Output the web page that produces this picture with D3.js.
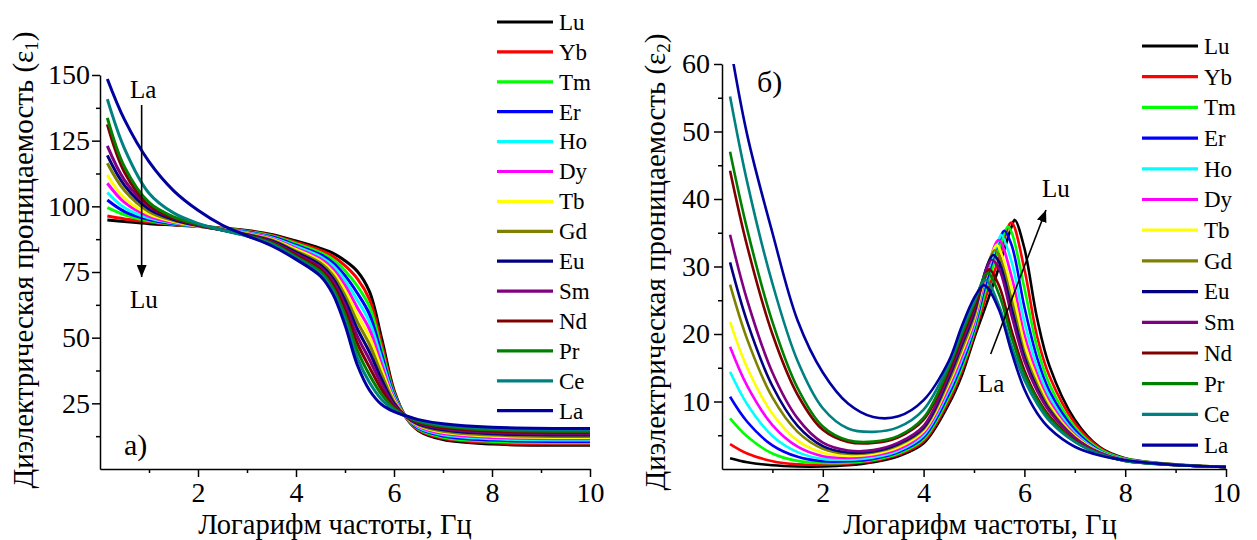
<!DOCTYPE html>
<html><head><meta charset="utf-8">
<script src="https://cdn.jsdelivr.net/npm/d3@7"></script>
<style>
body{margin:0;background:#fff}
svg{display:block}
text{font-family:"Liberation Serif","Times New Roman",serif;fill:#000}
</style>
</head><body>
<svg id="c" width="1257" height="540"></svg>
<script>
// ---------- data ----------
const elements = ["Lu","Yb","Tm","Er","Ho","Dy","Tb","Gd","Eu","Sm","Nd","Pr","Ce","La"];
const colors = ["#000000","#ff0000","#00ff00","#0000ff","#00ffff","#ff00ff","#ffff00","#808000","#000080","#800080","#800000","#008000","#008080","#0000a0"];

// panel a) real part eps1
const xLeft = [0.15,0.5,1,1.5,2,2.5,3,3.5,4,4.5,4.75,5,5.25,5.5,5.75,6,6.25,6.5,7,8,10];
const eps1Lu = [94.8,94.2,93.4,92.9,92.4,91.7,90.8,89.3,86.8,84.0,82.2,79.3,75.3,67.5,49.5,30,19.5,14.6,11.2,9.5,9.0];
const eps1Yb = [96.3,95.2,94,93.1,92.4,91.6,90.6,89,86.3,83.2,81.0,77.4,72.5,64.6,47.4,29.4,19.5,14.9,11.7,10.0,9.5];
const eps1Tm = [99.5,96.8,94.5,93.2,92.4,91.5,90.4,88.7,85.8,82.4,79.8,75.5,69.7,61.8,45.4,28.7,19.6,15.2,12.1,10.5,10.0];
const eps1Er = [102.4,98,95,93.4,92.4,91.4,90.2,88.4,85.2,81.6,78.6,73.6,67.0,58.9,43.5,28.1,19.6,15.5,12.6,11.0,10.5];
const eps1Ho = [105.3,99.5,95.5,93.6,92.4,91.3,90,88.1,84.7,80.8,77.4,71.8,64.3,56.0,41.6,27.5,19.7,15.8,13.0,11.5,11.0];
const eps1Dy = [108.8,101.5,96.2,93.9,92.4,91.2,89.8,87.8,84.1,80.0,76.2,69.9,61.5,53.2,39.7,26.8,19.8,16.2,13.5,12.0,11.5];
const eps1Tb = [111.9,103,97,94.2,92.5,91.1,89.6,87.5,83.6,79.2,75.0,68.0,58.8,50.3,37.8,26.2,19.8,16.5,14.0,12.5,12.0];
const eps1Gd = [116.4,106,98,94.6,92.6,91,89.4,87.2,83.0,78.4,73.9,66.1,56.1,47.4,35.9,25.6,19.9,16.8,14.4,12.9,12.4];
const eps1Eu = [119.4,108,99,95,92.7,91,89.2,86.9,82.5,77.6,72.7,64.2,53.4,44.5,34.0,25.0,19.9,17.1,14.9,13.4,12.9];
const eps1Sm = [123,110,100,95.5,92.8,91,89,86.6,81.9,76.7,71.5,62.3,50.6,41.6,32.1,24.3,20.0,17.5,15.4,13.9,13.4];
const eps1Nd = [131.2,113,100.5,95.5,93,91,89,86.3,81.4,75.9,70.3,60.5,47.9,38.7,30.2,23.7,20.0,17.8,15.8,14.4,13.9];
const eps1Pr = [133.7,115,101.5,96,93.2,91,88.8,86,80.8,75.1,69.1,58.6,45.2,35.8,28.3,23.1,20.1,18.1,16.3,14.9,14.4];
const eps1Ce = [140.8,122,105,97.5,93.5,90.9,88.7,85.6,80.3,74.2,67.9,56.7,42.4,32.9,26.4,22.4,20.1,18.5,16.7,15.4,14.9];
const eps1La = [148.5,133,117,106,98.5,92.8,88.8,85,79.8,73.4,66.7,54.8,39.7,30,24.5,21.8,20.2,18.8,17.2,15.9,15.4];

// panel б) imaginary part eps2
const xRight = [0.16,0.5,1,1.5,2,2.5,3,3.5,4,4.5,4.75,5,5.25,5.5,5.75,6,6.25,6.5,7,7.5,8,9,10];
const eps2Lu = [1.6,1.0,0.55,0.38,0.38,0.55,1.0,1.9,3.8,9.6,13.7,19.3,24.5,30.0,36.0,32.7,22.4,15.2,7.3,3.2,1.6,0.7,0.3];
const eps2Yb = [3.7,2.3,1.15,0.7,0.62,0.8,1.2,2.1,4.1,10.1,14.3,19.8,25.8,31.3,36.4,29.6,19.7,13.7,6.8,3.1,1.5,0.65,0.3];
const eps2Tm = [7.5,4.8,2.3,1.2,0.88,0.95,1.35,2.3,4.4,10.6,14.8,20.2,26.9,32.7,35.0,26.8,18.1,12.5,6.2,2.9,1.5,0.65,0.3];
const eps2Er = [10.7,7.0,3.5,1.8,1.15,1.15,1.5,2.5,4.7,11.1,15.4,20.7,27.9,33.8,33.1,24.0,16.5,11.5,5.8,2.7,1.4,0.6,0.3];
const eps2Ho = [14.4,9.6,4.9,2.5,1.5,1.38,1.7,2.7,5.0,11.6,16.0,21.1,28.7,34.1,30.6,21.8,15.2,10.7,5.4,2.6,1.4,0.6,0.3];
const eps2Dy = [18.1,12.3,6.5,3.3,1.9,1.65,1.95,2.9,5.3,12.1,16.5,21.6,29.1,33.85,28.4,19.9,14.1,10.0,5.1,2.5,1.35,0.6,0.3];
const eps2Tb = [21.8,15.0,8.2,4.2,2.4,1.95,2.2,3.2,5.6,12.6,17.1,22.1,29.5,32.7,26.7,18.6,13.3,9.5,4.9,2.5,1.3,0.6,0.3];
const eps2Gd = [27.3,19.2,10.6,5.5,3.0,2.25,2.45,3.5,5.9,13.0,17.6,22.5,29.8,31.6,25.0,17.3,12.6,9.0,4.7,2.4,1.3,0.6,0.3];
const eps2Eu = [30.6,21.8,12.3,6.4,3.4,2.45,2.6,3.7,6.1,13.5,18.2,23.0,29.9,30.6,23.7,16.6,12.0,8.7,4.6,2.3,1.25,0.6,0.3];
const eps2Sm = [34.7,25.0,14.3,7.5,3.9,2.75,2.8,3.9,6.4,14.0,18.7,23.5,29.7,29.6,22.6,16.0,11.6,8.5,4.6,2.4,1.25,0.6,0.3];
const eps2Nd = [44.2,33.0,20.0,11.0,5.8,4.0,3.85,4.7,7.3,14.5,19.3,23.9,29.0,27.1,20.4,14.6,10.6,7.8,4.2,2.2,1.2,0.6,0.3];
const eps2Pr = [47.0,35.5,21.8,12.0,6.3,4.25,4.05,4.9,7.6,15.0,19.8,24.4,28.8,25.8,19.4,14.0,10.3,7.5,4.1,2.2,1.2,0.6,0.3];
const eps2Ce = [55.2,42.5,27.5,16.0,9.0,6.0,5.5,6.2,8.8,15.5,20.4,24.8,27.95,24.1,18.1,13.2,9.7,7.1,4.0,2.2,1.2,0.6,0.3];
const eps2La = [63.0,49.5,35.0,22.0,14.3,9.7,7.7,7.8,10.2,16.0,21.0,25.3,27.0,23.5,17.2,11.8,8.3,6.0,3.3,2.0,1.3,0.6,0.3];
const peakX = [5.81,5.74,5.67,5.60,5.54,5.49,5.45,5.41,5.38,5.35,5.30,5.27,5.23,5.18];
const peakY = [36.9,36.5,35.9,35.3,34.7,33.9,33.2,32.4,31.7,31.0,29.6,29.0,28.0,27.2];

const xTicks = [2,4,6,8,10];
const xMinor = [1,3,5,7,9];
const yTicksLeft = [25,50,75,100,125,150];
const yMinorLeft = [12.5,37.5,62.5,87.5,112.5,137.5];
const yTicksRight = [10,20,30,40,50,60];
const yMinorRight = [5,15,25,35,45,55];

const eps1 = [eps1Lu,eps1Yb,eps1Tm,eps1Er,eps1Ho,eps1Dy,eps1Tb,eps1Gd,eps1Eu,eps1Sm,eps1Nd,eps1Pr,eps1Ce,eps1La];
const eps2 = [eps2Lu,eps2Yb,eps2Tm,eps2Er,eps2Ho,eps2Dy,eps2Tb,eps2Gd,eps2Eu,eps2Sm,eps2Nd,eps2Pr,eps2Ce,eps2La];

// build point tables
const seriesLeft = eps1.map((vals,i)=>({name:elements[i],color:colors[i],pts:xLeft.map((x,j)=>[x,vals[j]])}));
const seriesRight = eps2.map((vals,i)=>{
  const pts = xRight.map((x,j)=>[x,vals[j]]).filter(p=>Math.abs(p[0]-peakX[i])>0.03);
  pts.push([peakX[i],peakY[i]]);
  pts.sort((a,b)=>a[0]-b[0]);
  return {name:elements[i],color:colors[i],pts};
});

const svg = d3.select("#c");
const FS = 28;

function panel(o){
  const x = d3.scaleLinear().domain([0,10]).range([o.left,o.right]);
  const y = d3.scaleLinear().domain([0,o.ymax]).range([o.bottom,o.top]);
  const g = svg.append("g");
  g.append("clipPath").attr("id",o.id).append("rect")
    .attr("x",o.left).attr("y",o.top).attr("width",o.right-o.left).attr("height",o.bottom-o.top);
  const line = d3.line().x(d=>x(d[0])).y(d=>y(d[1])).curve(d3.curveCatmullRom.alpha(0.5));
  g.append("g").attr("clip-path",`url(#${o.id})`).selectAll("path").data(o.series).join("path")
    .attr("d",d=>line(d.pts)).attr("fill","none").attr("stroke",d=>d.color)
    .attr("stroke-width",o.lw).attr("stroke-linejoin","round");

  // axes
  const ax = g.append("g").attr("transform",`translate(0,${o.bottom})`)
    .call(d3.axisBottom(x).tickValues(xTicks).tickSize(8).tickSizeOuter(0).tickPadding(5).tickFormat(d3.format("d")));
  const axm = g.append("g").attr("transform",`translate(0,${o.bottom})`)
    .call(d3.axisBottom(x).tickValues(xMinor).tickSize(4).tickFormat(""));
  axm.select(".domain").remove();
  const ay = g.append("g").attr("transform",`translate(${o.left},0)`)
    .call(d3.axisLeft(y).tickValues(o.yt).tickSize(8).tickSizeOuter(0).tickPadding(o.ypad));
  const aym = g.append("g").attr("transform",`translate(${o.left},0)`)
    .call(d3.axisLeft(y).tickValues(o.ym).tickSize(4).tickFormat(""));
  aym.select(".domain").remove();
  [ax,axm,ay,aym].forEach(a=>{
    a.selectAll("path,line").attr("stroke","#000").attr("stroke-width",1.5);
    a.selectAll("text").attr("font-size",FS).attr("font-family","Liberation Serif");
  });

  // axis titles
  g.append("text").attr("x",o.xtx).attr("y",534).attr("text-anchor","middle")
    .attr("font-size",28.5).text("Логарифм частоты, Гц");
  const yt = g.append("text").attr("transform",`translate(${o.ytx},${o.yty}) rotate(-90)`)
    .attr("text-anchor","middle").attr("font-size",29);
  yt.append("tspan").text("Диэлектрическая проницаемость (ε");
  yt.append("tspan").attr("font-size",19).attr("dy",5).text(o.sub);
  yt.append("tspan").attr("dy",-5).text(")");

  // legend
  const lg = g.append("g");
  o.series.forEach((s,i)=>{
    const yy = o.legY + i*o.legDy;
    lg.append("line").attr("x1",o.legX).attr("x2",o.legX+56).attr("y1",yy).attr("y2",yy)
      .attr("stroke",s.color).attr("stroke-width",3.2);
    lg.append("text").attr("x",o.legX+62).attr("y",yy).attr("dy","0.34em")
      .attr("font-size",23).text(s.name);
  });
  return {x,y,g};
}

const L = panel({id:"clipL",left:100,right:590,top:75,bottom:469,ymax:150,yt:yTicksLeft,ym:yMinorLeft,
  ypad:2,series:seriesLeft,lw:3,xtx:335,ytx:33,yty:260,sub:"1",legX:497,legY:22,legDy:29.9});
const R = panel({id:"clipR",left:722,right:1226,top:64,bottom:469,ymax:60,yt:yTicksRight,ym:yMinorRight,
  ypad:4,series:seriesRight,lw:2.6,xtx:980,ytx:665,yty:262,sub:"2",legX:1142,legY:46,legDy:30.7});

// annotations
const defs = svg.append("defs");
defs.append("marker").attr("id","ah").attr("viewBox","0 0 12 10").attr("refX",12).attr("refY",5)
  .attr("markerWidth",12).attr("markerHeight",10).attr("markerUnits","userSpaceOnUse").attr("orient","auto")
  .append("path").attr("d","M0,0 L12,5 L0,10 Z").attr("fill","#000");

const ann = svg.append("g");
ann.append("text").attr("x",130).attr("y",98).attr("font-size",25).text("La");
ann.append("line").attr("x1",L.x(0.85)).attr("x2",L.x(0.85)).attr("y1",105).attr("y2",277)
  .attr("stroke","#000").attr("stroke-width",1.6).attr("marker-end","url(#ah)");
ann.append("text").attr("x",130).attr("y",308).attr("font-size",25).text("Lu");
ann.append("text").attr("x",124).attr("y",455).attr("font-size",30).text("а)");

ann.append("text").attr("x",757).attr("y",92).attr("font-size",30).text("б)");
ann.append("line").attr("x1",990.7).attr("y1",354).attr("x2",1046).attr("y2",210)
  .attr("stroke","#000").attr("stroke-width",1.6).attr("marker-end","url(#ah)");
ann.append("text").attr("x",978).attr("y",392).attr("font-size",25).text("La");
ann.append("text").attr("x",1042).attr("y",197).attr("font-size",25).text("Lu");
</script>
</body></html>
